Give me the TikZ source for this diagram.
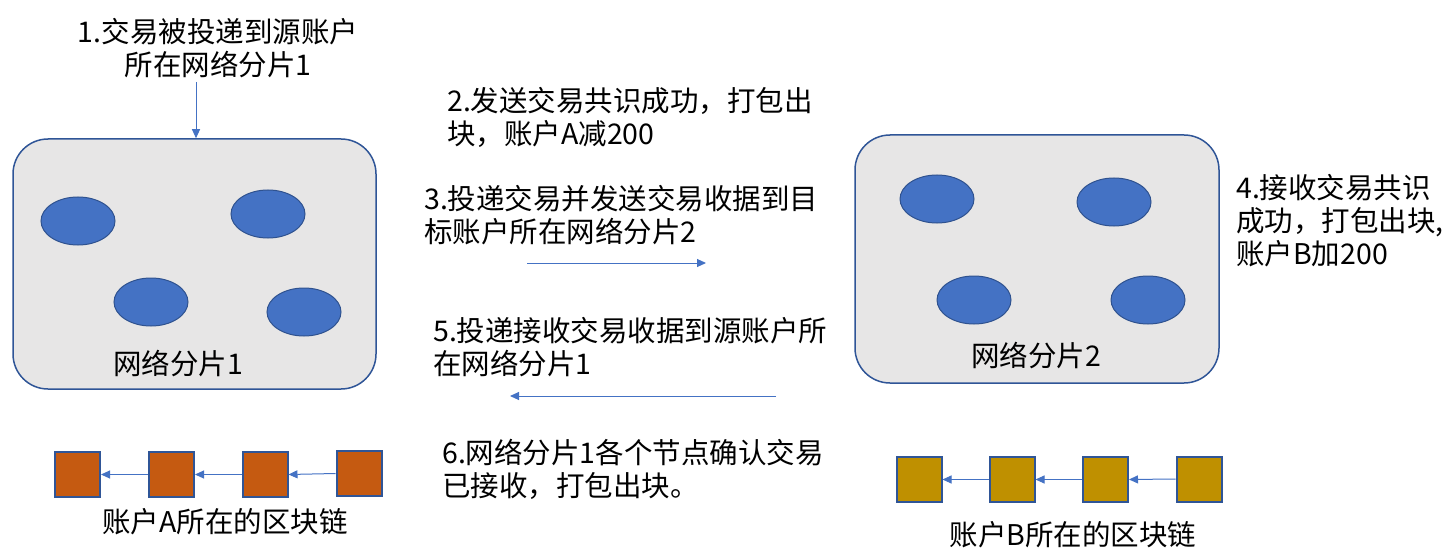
\documentclass[tikz,border=0pt]{standalone}
\usepackage{fontspec}
\setmainfont{Noto Sans CJK SC}
\usetikzlibrary{shapes.geometric,arrows.meta}
\definecolor{boxfill}{HTML}{E7E6E6}
\definecolor{boxline}{HTML}{2F5597}
\definecolor{nodefill}{HTML}{4472C4}
\definecolor{nodeline}{HTML}{2F528F}
\definecolor{blockA}{HTML}{C55A11}
\definecolor{blockB}{HTML}{BF9000}
\definecolor{arrowc}{HTML}{4472C4}
\tikzset{
  shard/.style={draw=boxline, fill=boxfill, line width=1.5pt, rounded corners=35pt, minimum width=363pt, minimum height=250pt, inner sep=0pt},
  peer/.style={draw=nodeline, fill=nodefill, line width=1pt, ellipse, minimum width=74pt, minimum height=48pt, inner sep=0pt},
  blockAbox/.style={draw=boxline, fill=blockA, line width=2pt, minimum width=45pt, minimum height=45pt, inner sep=0pt},
  blockBbox/.style={draw=boxline, fill=blockB, line width=2pt, minimum width=45pt, minimum height=45pt, inner sep=0pt},
  conn/.style={draw=arrowc, line width=1pt, -{Triangle[length=9pt,width=8pt]}},
  txt/.style={font=\fontsize{28.5}{33}\selectfont, inner sep=0pt, text=black},
}
\begin{document}
\begin{tikzpicture}[x=1pt,y=-1pt]
\useasboundingbox (0,0) rectangle (1442,556);
% shards
\node[shard] (s1) at (194.5,264) {};
\node[shard, minimum width=364pt, minimum height=248pt] (s2) at (1037,259) {};
% peers shard 1
\node[peer] (p11) at (78,221) {};
\node[peer] (p12) at (268,214) {};
\node[peer] (p13) at (151,302) {};
\node[peer] (p14) at (304,312) {};
% peers shard 2
\node[peer] (p21) at (937,199) {};
\node[peer] (p22) at (1114,202) {};
\node[peer] (p23) at (974,300) {};
\node[peer] (p24) at (1148,300) {};
% shard labels
\node[txt] (l1) at (178,364) {网络分片1};
\node[txt] (l2) at (1036,356) {网络分片2};
% step texts
\node[txt, align=center, anchor=north] (t1) at (218,18) {1.交易被投递到源账户\\所在网络分片1};
\node[txt, align=left, anchor=north west] (t2) at (447,87) {2.发送交易共识成功，打包出\\块，账户A减200};
\node[txt, align=left, anchor=north west] (t3) at (424,185) {3.投递交易并发送交易收据到目\\标账户所在网络分片2};
\node[txt, align=left, anchor=north west] (t4) at (1236,174) {4.接收交易共识\\成功，打包出块,\\账户B加200};
\node[txt, align=left, anchor=north west] (t5) at (433,317) {5.投递接收交易收据到源账户所\\在网络分片1};
\node[txt, align=left, anchor=north west] (t6) at (442,439) {6.网络分片1各个节点确认交易\\已接收，打包出块。};
% arrows
\coordinate (a1s) at (196,82);
\draw[conn] (a1s) -- (a1s |- s1.north);
\coordinate (a3s) at (527,263);
\coordinate (a3e) at (706,263);
\draw[conn] (a3s) -- (a3e);
\coordinate (a5s) at (776,396);
\coordinate (a5e) at (510,396);
\draw[conn] (a5s) -- (a5e);
% chain A
\node[blockAbox] (ba1) at (77.5,474.5) {};
\node[blockAbox] (ba2) at (171.5,474.5) {};
\node[blockAbox] (ba3) at (265,474.5) {};
\node[blockAbox] (ba4) at (359,473.5) {};
\draw[conn] (ba2.west) -- (ba1.east);
\draw[conn] (ba3.west) -- (ba2.east);
\draw[conn] (ba4.west) -- (ba3.east);
\node[txt] (la) at (225,522) {账户A所在的区块链};
% chain B
\node[blockBbox] (bb1) at (919,479.5) {};
\node[blockBbox] (bb2) at (1012,479.5) {};
\node[blockBbox] (bb3) at (1105.5,479.5) {};
\node[blockBbox] (bb4) at (1199,479) {};
\draw[conn] (bb2.west) -- (bb1.east);
\draw[conn] (bb3.west) -- (bb2.east);
\draw[conn] (bb4.west) -- (bb3.east);
\node[txt] (lb) at (1073,535) {账户B所在的区块链};
\end{tikzpicture}
\end{document}
